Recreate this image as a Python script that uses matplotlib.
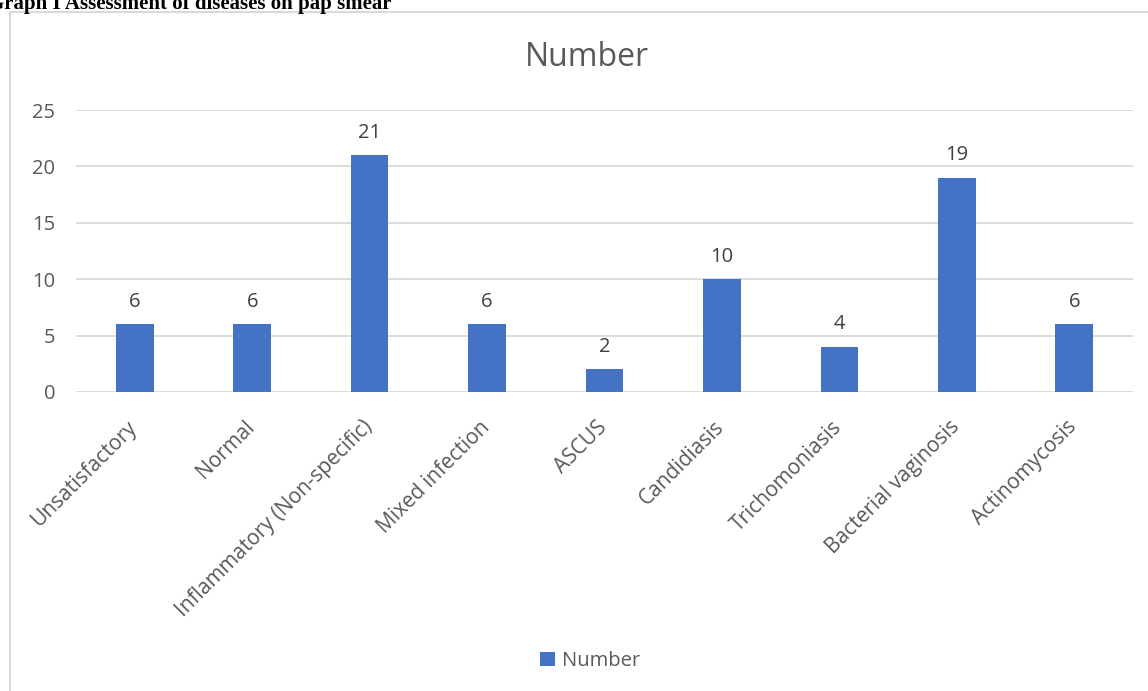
import matplotlib
matplotlib.use("Agg")
import matplotlib.pyplot as plt
import matplotlib.transforms as mtransforms
from matplotlib.patches import Rectangle

categories = ["Unsatisfactory", "Normal", "Inflammatory (Non-specific)", "Mixed infection",
              "ASCUS", "Candidiasis", "Trichomoniasis", "Bacterial vaginosis", "Actinomycosis"]
values = [6, 6, 21, 6, 2, 10, 4, 19, 6]
yticks = [0, 5, 10, 15, 20, 25]

plt.rcParams['font.family'] = ['Open Sans', 'DejaVu Sans']
txt = '#595959'
bar_c = '#4472C4'
grid_c = '#d9d9d9'

fig = plt.figure(figsize=(11.48, 6.91), dpi=100)
W, H = 1148, 691

# outer chart frame
fig.patches.append(Rectangle((10 / W, -0.05), 1.2, 1 - 12 / H + 0.05, transform=fig.transFigure,
                             fill=False, edgecolor=grid_c, linewidth=1.5))

fig.text(-12 / W, 1 - 4 / H, "Graph I Assessment of diseases on pap smear", family='Liberation Serif',
         fontweight='bold', fontsize=15, va='center', ha='left', color='black')

ax = fig.add_axes([76 / W, 1 - 392 / H, (1133 - 76) / W, (392 - 110) / H])
x = list(range(len(categories)))
bars = ax.bar(x, values, width=0.32, color=bar_c, zorder=3, label="Number")
ax.set_xlim(-0.5, len(categories) - 0.5)
ax.set_ylim(0, 25)
ax.set_yticks(yticks)
ax.set_yticklabels([str(t) for t in yticks], fontsize=14.5, color=txt)
ax.tick_params(axis='y', length=0, pad=15)
ax.tick_params(axis='x', length=0, pad=12)
ax.set_xticks(x)
ax.set_xticklabels(categories, rotation=45, ha='right', rotation_mode='anchor', fontsize=15, color=txt)
offset = mtransforms.ScaledTranslation(-8 / 100, -8 / 100, fig.dpi_scale_trans)
for lab in ax.get_xticklabels():
    lab.set_transform(lab.get_transform() + offset)
ax.yaxis.grid(True, color=grid_c, linewidth=1.3, zorder=0)
for s in ax.spines.values():
    s.set_visible(False)
for xi, v in zip(x, values):
    ax.annotate(str(v), (xi, v), xytext=(0, 9), textcoords='offset points', ha='center', va='bottom',
                fontsize=14.5, color='#404040')

fig.text(587 / W, 1 - 57 / H, "Number", ha='center', va='center', fontsize=23, color=txt)

leg = fig.legend(handles=[bars], labels=["Number"], loc='center', bbox_to_anchor=(590 / W, 1 - 661 / H),
                 frameon=False, fontsize=14.5, handlelength=0.75, handleheight=0.75, handletextpad=0.3)
for t in leg.get_texts():
    t.set_color(txt)

fig.savefig("out.png", dpi=100)
